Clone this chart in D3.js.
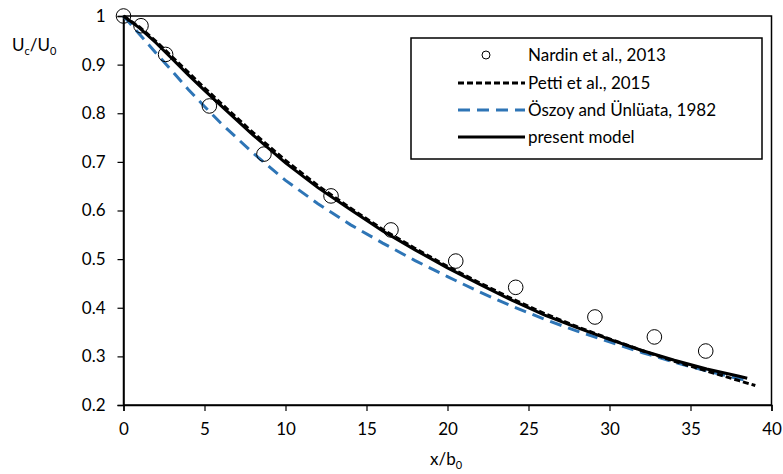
<!DOCTYPE html>
<html>
<head>
<meta charset="utf-8">
<script src="https://cdn.jsdelivr.net/npm/d3@7"></script>
<style>
  body { margin: 0; background: #fff; }
  svg { display: block; }
  text { font-family: Lato, "Open Sans", sans-serif; fill: #000; }
</style>
</head>
<body>
<svg id="chart" width="783" height="474"></svg>
<script>
// measured points (Nardin et al., 2013)
const nardinX = [0, 1.08, 2.60, 5.30, 8.67, 12.81, 16.51, 20.51, 24.21, 29.10, 32.77, 35.94];
const nardinY = [1.0, 0.980, 0.921, 0.815, 0.716, 0.630, 0.560, 0.496, 0.442, 0.381, 0.340, 0.311];

// curves
const modelX = [0, 1, 2, 3, 4, 5, 6, 8, 10, 12, 14, 16, 18, 20, 22, 24, 26, 28, 30, 32, 34, 36, 38, 38.5];
const modelY = [1.0, 0.975, 0.945, 0.912, 0.879, 0.847, 0.816, 0.755, 0.698, 0.647, 0.602, 0.558, 0.519, 0.482, 0.448, 0.415, 0.385, 0.359, 0.335, 0.312, 0.292, 0.274, 0.259, 0.255];

const pettiX = [0, 1, 2, 3, 4, 5, 6, 8, 10, 12, 14, 16, 18, 20, 22, 24, 26, 28, 30, 32, 34, 36, 38, 39];
const pettiY = [1.0, 0.977, 0.948, 0.916, 0.884, 0.852, 0.821, 0.760, 0.703, 0.651, 0.605, 0.561, 0.522, 0.485, 0.451, 0.418, 0.388, 0.361, 0.336, 0.312, 0.290, 0.270, 0.250, 0.240];

const oszoyX = [0, 1, 2, 3, 4, 5, 6, 8, 10, 12, 14, 16, 18, 20, 22, 24, 26, 28, 30, 32, 34, 36, 38, 38.5];
const oszoyY = [1.0, 0.962, 0.924, 0.887, 0.849, 0.814, 0.780, 0.718, 0.662, 0.614, 0.571, 0.533, 0.497, 0.464, 0.432, 0.403, 0.376, 0.352, 0.330, 0.308, 0.288, 0.270, 0.254, 0.250];

const xTicks = [0, 5, 10, 15, 20, 25, 30, 35, 40];
const yTicks = [0.2, 0.3, 0.4, 0.5, 0.6, 0.7, 0.8, 0.9, 1];
const seriesNames = ["Nardin et al., 2013", "Petti et al., 2015", "Öszoy and Ünlüata, 1982", "present model"];

const blue = "#2e75b6";

const svg = d3.select("#chart");
const x = d3.scaleLinear().domain([0, 40]).range([123.5, 771.5]);
const y = d3.scaleLinear().domain([0.2, 1]).range([405, 16]);

// frame
svg.append("rect")
  .attr("x", x(0)).attr("y", y(1))
  .attr("width", x(40) - x(0)).attr("height", y(0.2) - y(1))
  .attr("fill", "none").attr("stroke", "#000").attr("stroke-width", 1.5);

const xAxis = svg.append("g")
  .attr("transform", `translate(0,${y(0.2)})`)
  .call(d3.axisBottom(x).tickValues(xTicks).tickSize(6).tickPadding(12).tickFormat(d3.format("d")));
const yAxis = svg.append("g")
  .attr("transform", `translate(${x(0)},0)`)
  .call(d3.axisLeft(y).tickValues(yTicks).tickSize(6).tickPadding(12)
    .tickFormat(d => d === 1 ? "1" : d.toFixed(1)));
[xAxis, yAxis].forEach(g => {
  g.select(".domain").attr("stroke-width", 1.5);
  g.selectAll(".tick line").attr("stroke-width", 1.2);
  g.selectAll("text").attr("font-size", 17).attr("font-family", "Lato, sans-serif");
});

// axis titles
const yt = svg.append("text").attr("x", 12).attr("y", 51).attr("font-size", 17);
yt.append("tspan").text("U");
yt.append("tspan").attr("font-size", 11).attr("dy", 4).text("c");
yt.append("tspan").attr("dy", -4).text("/U");
yt.append("tspan").attr("font-size", 11).attr("dy", 4).text("0");

const xt = svg.append("text").attr("x", 430).attr("y", 465).attr("font-size", 17);
xt.append("tspan").text("x/b");
xt.append("tspan").attr("font-size", 11).attr("dy", 4).text("0");

const line = d3.line().x(d => x(d[0])).y(d => y(d[1]));
const zipXY = (xs, ys) => xs.map((v, i) => [v, ys[i]]);

svg.append("path").datum(zipXY(oszoyX, oszoyY))
  .attr("d", line).attr("fill", "none").attr("stroke", blue)
  .attr("stroke-width", 3).attr("stroke-dasharray", "12,7");

svg.append("path").datum(zipXY(modelX, modelY))
  .attr("d", line).attr("fill", "none").attr("stroke", "#000")
  .attr("stroke-width", 3);

svg.append("path").datum(zipXY(pettiX, pettiY))
  .attr("d", line).attr("fill", "none").attr("stroke", "#000")
  .attr("stroke-width", 3).attr("stroke-dasharray", "6,3");

svg.append("g").selectAll("circle")
  .data(zipXY(nardinX, nardinY))
  .join("circle")
  .attr("cx", d => x(d[0])).attr("cy", d => y(d[1])).attr("r", 7.3)
  .attr("fill", "none").attr("stroke", "#000").attr("stroke-width", 1);

// legend
const lg = svg.append("g").attr("transform", "translate(411,38)");
lg.append("rect").attr("width", 351).attr("height", 121)
  .attr("fill", "#fff").attr("stroke", "#000").attr("stroke-width", 1.5);
const rowY = [17, 45, 72, 99];
const styles = [
  { type: "circle" },
  { stroke: "#000", dash: "6,3" },
  { stroke: blue, dash: "12,7" },
  { stroke: "#000", dash: null }
];
seriesNames.forEach((name, i) => {
  const s = styles[i];
  if (s.type === "circle") {
    lg.append("circle").attr("cx", 75).attr("cy", rowY[i]).attr("r", 4)
      .attr("fill", "none").attr("stroke", "#000").attr("stroke-width", 1);
  } else {
    lg.append("line").attr("x1", 47).attr("x2", 114).attr("y1", rowY[i]).attr("y2", rowY[i])
      .attr("stroke", s.stroke).attr("stroke-width", 3)
      .attr("stroke-dasharray", s.dash);
  }
  lg.append("text").attr("x", 117).attr("y", rowY[i]).attr("dy", "0.35em")
    .attr("font-size", 17).text(name);
});
</script>
</body>
</html>
